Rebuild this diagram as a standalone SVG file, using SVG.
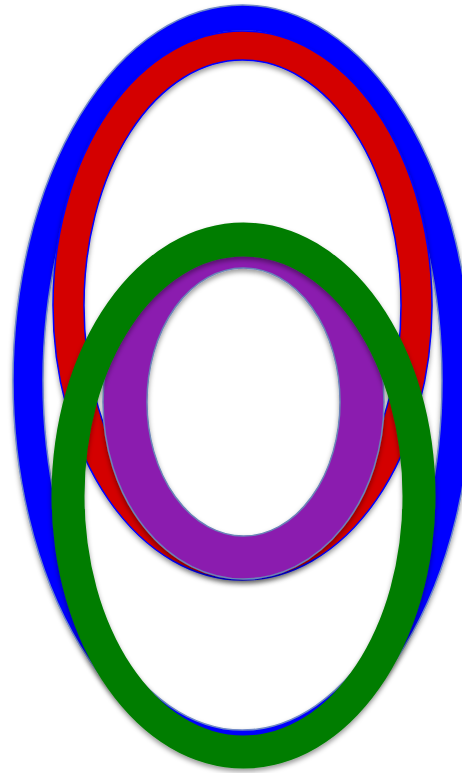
<svg xmlns="http://www.w3.org/2000/svg" width="462" height="773" viewBox="0 0 462 773">
<defs>
<filter id="sh" x="-10%" y="-10%" width="120%" height="120%">
<feGaussianBlur in="SourceAlpha" stdDeviation="2.5"/>
<feOffset dx="0" dy="3" result="b"/>
<feFlood flood-color="#000" flood-opacity="0.4"/>
<feComposite in2="b" operator="in"/>
<feMerge><feMergeNode/><feMergeNode in="SourceGraphic"/></feMerge>
</filter>
</defs>
<style>
.ring{fill-rule:evenodd;filter:url(#sh)}
#blue path{fill:#0000FF;stroke:#6f89c6;stroke-width:1.5}
#red path{fill:#D40000;stroke:#0000FF;stroke-width:1.5}
#purple path{fill:#8B1FAF;stroke:#6a84b8;stroke-width:1.5}
#green path{fill:#007D00;stroke:none}
</style>
<rect width="462" height="773" fill="#fff"/>
<g id="blue"><path class="ring" d="M13,380.5 a229.5,375.5 0 1,0 459,0 a229.5,375.5 0 1,0 -459,0 Z M43,380.5 a199.5,349.5 0 1,0 399,0 a199.5,349.5 0 1,0 -399,0 Z"/></g>
<g id="red"><path class="ring" d="M53,305.5 a189.5,274.5 0 1,0 379,0 a189.5,274.5 0 1,0 -379,0 Z M84,305.5 a158.5,245.5 0 1,0 317,0 a158.5,245.5 0 1,0 -317,0 Z"/></g>
<g id="purple"><path class="ring" d="M103,402 a140.5,177 0 1,0 281,0 a140.5,177 0 1,0 -281,0 Z M147,402 a96.5,134 0 1,0 193,0 a96.5,134 0 1,0 -193,0 Z"/></g>
<g id="green"><path class="ring" d="M51.5,495.5 a192,273 0 1,0 384,0 a192,273 0 1,0 -384,0 Z M84.5,496 a159,239.5 0 1,0 318,0 a159,239.5 0 1,0 -318,0 Z"/></g>
</svg>
